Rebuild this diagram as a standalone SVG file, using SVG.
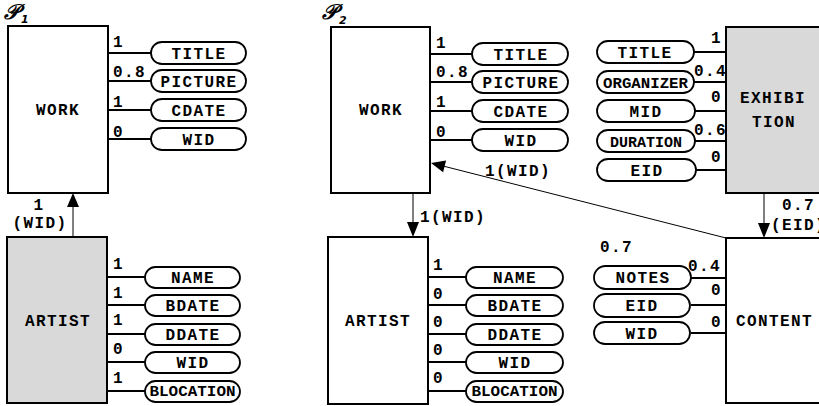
<svg xmlns="http://www.w3.org/2000/svg" width="819" height="406" viewBox="0 0 819 406">
<style>
.t{font-family:"Liberation Mono","Courier New",monospace;font-weight:bold;font-size:16px;letter-spacing:1.4px;fill:#000}
.c{text-anchor:middle}
.s{font-size:14px;letter-spacing:0px}
.box{stroke:#000;stroke-width:2;fill:#fff}
.g{fill:#d9d9d9}
.pill{stroke:#000;stroke-width:1.8;fill:#fff}
.ln{stroke:#000;stroke-width:1.8;fill:none}
.ar{stroke:#000;stroke-width:1;fill:none}
.ah{fill:#000}
.p{font-family:"DejaVu Sans","Noto Sans",serif;font-style:italic;font-weight:bold;font-size:21px;fill:#000}
.sub{font-family:"DejaVu Sans","Noto Sans",sans-serif;font-style:italic;font-weight:bold;font-size:11px;fill:#000}
</style>
<rect width="819" height="406" fill="#fff"/>
<text class="p" x="4" y="19">𝒫</text><text class="sub" x="21" y="23">1</text>
<text class="p" x="322" y="19">𝒫</text><text class="sub" x="339" y="24">2</text>

<g id="connectors">
<line class="ar" x1="73" y1="237" x2="73" y2="205"/>
<polygon class="ah" points="73,193 67,207 79,207"/>
<text class="t c" x="39" y="210">1</text>
<text class="t c" x="40" y="228">(WID)</text>
<line class="ar" x1="413" y1="193" x2="413" y2="224"/>
<polygon class="ah" points="413,237 407,222 419,222"/>
<text class="t" x="420" y="222">1(WID)</text>
<line class="ar" x1="726" y1="238" x2="443" y2="166"/>
<polygon class="ah" points="431,163 443.1,172.2 446.1,160.6"/>
<text class="t" x="485" y="176">1(WID)</text>
<line class="ar" x1="764" y1="193" x2="764" y2="224"/>
<polygon class="ah" points="764,238 758,223 770,223"/>
<text class="t" x="782" y="210">0.7</text>
<text class="t" x="771" y="230">(EID)</text>
</g>

<g id="p1-work">
<rect class="box" x="8" y="26" width="100" height="167"/>
<text class="t c" x="58" y="115">WORK</text>
<path class="ln" d="M108 53H151M108 81H151M108 110H151M108 139H151"/>
<rect class="pill" x="151" y="42" width="95" height="22" rx="11"/>
<rect class="pill" x="151" y="70" width="95" height="22" rx="11"/>
<rect class="pill" x="151" y="99" width="95" height="22" rx="11"/>
<rect class="pill" x="151" y="128" width="95" height="22" rx="11"/>
<text class="t c" x="199" y="59">TITLE</text>
<text class="t c" x="199" y="87">PICTURE</text>
<text class="t c" x="199" y="116">CDATE</text>
<text class="t c" x="199" y="145">WID</text>
<text class="t" x="113" y="47">1</text>
<text class="t" x="113" y="77">0.8</text>
<text class="t" x="113" y="107">1</text>
<text class="t" x="113" y="137">0</text>
</g>

<g id="p1-artist">
<rect class="box g" x="7" y="237" width="100" height="166"/>
<text class="t c" x="58" y="326">ARTIST</text>
<path class="ln" d="M107 277H145M107 305H145M107 334H145M107 362H145M107 391H145"/>
<rect class="pill" x="145" y="267" width="95" height="21" rx="10.5"/>
<rect class="pill" x="145" y="295" width="95" height="21" rx="10.5"/>
<rect class="pill" x="145" y="324" width="95" height="21" rx="10.5"/>
<rect class="pill" x="145" y="352" width="95" height="21" rx="10.5"/>
<rect class="pill" x="145" y="381" width="95" height="21" rx="10.5"/>
<text class="t c" x="193" y="283">NAME</text>
<text class="t c" x="193" y="311">BDATE</text>
<text class="t c" x="193" y="340">DDATE</text>
<text class="t c" x="193" y="368">WID</text>
<text class="t s c" x="192.5" y="396" textLength="86" lengthAdjust="spacingAndGlyphs">BLOCATION</text>
<text class="t" x="113" y="269">1</text>
<text class="t" x="113" y="298">1</text>
<text class="t" x="113" y="325">1</text>
<text class="t" x="113" y="354">0</text>
<text class="t" x="113" y="383">1</text>
</g>

<g id="p2-work">
<rect class="box" x="331" y="27" width="99" height="166"/>
<text class="t c" x="381" y="115">WORK</text>
<path class="ln" d="M430 54H472M430 82H472M430 111H472M430 140H472"/>
<rect class="pill" x="472" y="43" width="96" height="22" rx="11"/>
<rect class="pill" x="472" y="71" width="96" height="22" rx="11"/>
<rect class="pill" x="472" y="100" width="96" height="22" rx="11"/>
<rect class="pill" x="472" y="129" width="96" height="22" rx="11"/>
<text class="t c" x="521" y="60">TITLE</text>
<text class="t c" x="521" y="88">PICTURE</text>
<text class="t c" x="521" y="117">CDATE</text>
<text class="t c" x="521" y="146">WID</text>
<text class="t" x="436" y="48">1</text>
<text class="t" x="436" y="77">0.8</text>
<text class="t" x="436" y="107">1</text>
<text class="t" x="436" y="137">0</text>
</g>

<g id="p2-artist">
<rect class="box" x="328" y="237" width="100" height="167"/>
<text class="t c" x="378" y="326">ARTIST</text>
<path class="ln" d="M428 277H466M428 305H466M428 334H466M428 362H466M428 391H466"/>
<rect class="pill" x="466" y="267" width="97" height="21" rx="10.5"/>
<rect class="pill" x="466" y="295" width="97" height="21" rx="10.5"/>
<rect class="pill" x="466" y="324" width="97" height="21" rx="10.5"/>
<rect class="pill" x="466" y="352" width="97" height="21" rx="10.5"/>
<rect class="pill" x="466" y="381" width="97" height="21" rx="10.5"/>
<text class="t c" x="515" y="283">NAME</text>
<text class="t c" x="515" y="311">BDATE</text>
<text class="t c" x="515" y="340">DDATE</text>
<text class="t c" x="515" y="368">WID</text>
<text class="t s c" x="514.5" y="396" textLength="86" lengthAdjust="spacingAndGlyphs">BLOCATION</text>
<text class="t" x="433" y="270">1</text>
<text class="t" x="433" y="299">0</text>
<text class="t" x="433" y="327">0</text>
<text class="t" x="433" y="355">0</text>
<text class="t" x="433" y="383">0</text>
</g>

<g id="exhibition">
<rect class="box g" x="726" y="27" width="110" height="166"/>
<text class="t" x="740" y="103">EXHIBI</text>
<text class="t" x="752" y="127">TION</text>
<path class="ln" d="M694 52H726M694 82H726M694 111H726M694 141H726M694 170H726"/>
<rect class="pill" x="597" y="41" width="97" height="22" rx="11"/>
<rect class="pill" x="597" y="71" width="97" height="22" rx="11"/>
<rect class="pill" x="597" y="100" width="98" height="22" rx="11"/>
<rect class="pill" x="597" y="130" width="98" height="22" rx="11"/>
<rect class="pill" x="597" y="159" width="99" height="22" rx="11"/>
<text class="t c" x="645" y="58">TITLE</text>
<text class="t s c" x="645.5" y="88" textLength="85" lengthAdjust="spacingAndGlyphs">ORGANIZER</text>
<text class="t c" x="646" y="117">MID</text>
<text class="t s c" x="646" y="147" textLength="72" lengthAdjust="spacingAndGlyphs">DURATION</text>
<text class="t c" x="647" y="176">EID</text>
<text class="t" x="711" y="43">1</text>
<text class="t" x="694" y="76">0.4</text>
<text class="t" x="711" y="102">0</text>
<text class="t" x="694" y="135">0.6</text>
<text class="t" x="711" y="162">0</text>
</g>

<g id="content">
<rect class="box" x="726" y="238" width="110" height="165"/>
<text class="t" x="736" y="326">CONTENT</text>
<path class="ln" d="M691 278H726M691 305H726M691 333H726"/>
<rect class="pill" x="594" y="266" width="97" height="23" rx="11.5"/>
<rect class="pill" x="594" y="294" width="96" height="23" rx="11.5"/>
<rect class="pill" x="594" y="322" width="96" height="22" rx="11"/>
<text class="t c" x="643" y="283">NOTES</text>
<text class="t c" x="642" y="311">EID</text>
<text class="t c" x="642" y="339">WID</text>
<text class="t" x="600" y="252">0.7</text>
<text class="t" x="688" y="271">0.4</text>
<text class="t" x="711" y="295">0</text>
<text class="t" x="711" y="327">0</text>
</g>
</svg>
